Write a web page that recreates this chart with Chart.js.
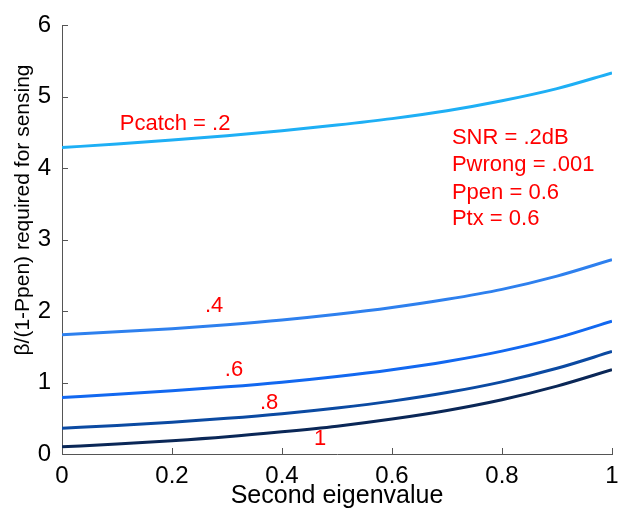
<!DOCTYPE html>
<html>
<head>
<meta charset="utf-8">
<script src="https://cdn.jsdelivr.net/npm/chart.js@4/dist/chart.umd.min.js"></script>
<style>
  html, body { margin: 0; padding: 0; background: #fff; }
  #wrap { width: 618px; height: 508px; }
</style>
</head>
<body>
<div id="wrap"><canvas id="c" width="618" height="508"></canvas></div>
<script>
// ---- data ----
const xValues = [0, 0.1, 0.2, 0.3, 0.4, 0.5, 0.6, 0.7, 0.8, 0.9, 1.0];
const pcatch02 = [4.29, 4.34, 4.395, 4.455, 4.525, 4.605, 4.695, 4.805, 4.945, 5.115, 5.335];
const pcatch04 = [1.67, 1.71, 1.755, 1.81, 1.875, 1.955, 2.05, 2.165, 2.305, 2.49, 2.72];
const pcatch06 = [0.79, 0.835, 0.885, 0.94, 1.005, 1.085, 1.18, 1.295, 1.44, 1.625, 1.86];
const pcatch08 = [0.36, 0.40, 0.445, 0.50, 0.565, 0.645, 0.74, 0.86, 1.01, 1.20, 1.435];
const pcatch10 = [0.10, 0.14, 0.185, 0.24, 0.31, 0.39, 0.49, 0.61, 0.76, 0.95, 1.18];
const seriesNames = ['Pcatch = .2', '.4', '.6', '.8', '1'];
const xTickLabels = ['0', '0.2', '0.4', '0.6', '0.8', '1'];
const yTickLabels = ['0', '1', '2', '3', '4', '5', '6'];
const xTitle = 'Second eigenvalue';
const yTitle = 'β/(1-Ppen) required for sensing';

// curve labels: [text, x, y] in data coordinates
const curveLabels = [
  ['Pcatch = .2', 0.105, 4.62],
  ['.4', 0.26, 2.07],
  ['.6', 0.296, 1.17],
  ['.8', 0.36, 0.71],
  ['1', 0.458, 0.21]
];
const infoLines = ['SNR = .2dB', 'Pwrong = .001', 'Ppen = 0.6', 'Ptx = 0.6'];
const infoX = 0.709;
const infoY = [4.43, 4.05, 3.66, 3.29];

const colors = ['#1eaff5', '#2e80ee', '#1268f0', '#0b4aa2', '#0a2757'];
const FONT = '"Liberation Sans", Arial, sans-serif';

const allSeries = [pcatch02, pcatch04, pcatch06, pcatch08, pcatch10];
const datasets = allSeries.map((vals, i) => ({
  label: seriesNames[i],
  data: xValues.map((x, j) => ({ x: x, y: vals[j] })),
  borderColor: colors[i],
  backgroundColor: colors[i],
  borderWidth: 3,
  pointRadius: 0,
  cubicInterpolationMode: 'monotone',
  fill: false
}));

const innerTicks = {
  id: 'innerTicks',
  afterDraw(chart) {
    const ctx = chart.ctx;
    const xs = chart.scales.x, ys = chart.scales.y;
    const a = chart.chartArea;
    ctx.save();
    ctx.strokeStyle = '#555';
    ctx.lineWidth = 1;
    ctx.beginPath();
    xs.ticks.forEach((t, i) => {
      const px = Math.round(xs.getPixelForTick(i)) + 0.5;
      ctx.moveTo(px, a.bottom);
      ctx.lineTo(px, a.bottom - 6);
    });
    ys.ticks.forEach((t, i) => {
      const py = Math.round(ys.getPixelForTick(i)) + 0.5;
      ctx.moveTo(a.left, py);
      ctx.lineTo(a.left + 6, py);
    });
    ctx.stroke();
    // y-axis title (sits slightly above the chart-area centre in the reference)
    ctx.fillStyle = '#000';
    ctx.font = '21px ' + FONT;
    ctx.textAlign = 'center';
    ctx.textBaseline = 'middle';
    ctx.translate(23, 210);
    ctx.rotate(-Math.PI / 2);
    ctx.fillText(yTitle, 0, 0);
    ctx.restore();
  }
};

const annotations = {
  id: 'annotations',
  afterDatasetsDraw(chart) {
    const ctx = chart.ctx;
    const xs = chart.scales.x, ys = chart.scales.y;
    ctx.save();
    ctx.fillStyle = '#ff0000';
    ctx.textAlign = 'left';
    ctx.textBaseline = 'middle';
    ctx.font = '22px ' + FONT;
    curveLabels.forEach(([txt, x, y]) => {
      ctx.fillText(txt, xs.getPixelForValue(x), ys.getPixelForValue(y));
    });
    infoLines.forEach((txt, i) => {
      ctx.fillText(txt, xs.getPixelForValue(infoX), ys.getPixelForValue(infoY[i]));
    });
    ctx.restore();
  }
};

new Chart(document.getElementById('c'), {
  type: 'line',
  data: { datasets: datasets },
  options: {
    responsive: false,
    animation: false,
    layout: { padding: { top: 22, right: 0, left: 0, bottom: 0 } },
    plugins: { legend: { display: false }, tooltip: { enabled: false } },
    scales: {
      x: {
        type: 'linear', min: 0, max: 1,
        afterFit(s) { s.height = 54; s.paddingRight = 6; },
        grid: { display: false, drawTicks: false },
        border: { display: true, color: '#555', width: 1 },
        ticks: {
          stepSize: 0.2, padding: 8, color: '#000',
          font: { size: 24, family: FONT },
          maxRotation: 0,
          callback: (v) => xTickLabels[Math.round(v * 5)]
        },
        title: { display: true, text: xTitle, color: '#000',
                 font: { size: 25, family: FONT }, padding: { top: 0, bottom: -3 } }
      },
      y: {
        type: 'linear', min: 0, max: 6,
        afterFit(s) { s.width = 62; },
        grid: { display: false, drawTicks: false },
        border: { display: true, color: '#555', width: 1 },
        ticks: {
          stepSize: 1, padding: 11, color: '#000',
          font: { size: 24, family: FONT },
          callback: (v) => yTickLabels[Math.round(v)]
        },
        title: { display: false }
      }
    }
  },
  plugins: [innerTicks, annotations]
});
</script>
</body>
</html>
